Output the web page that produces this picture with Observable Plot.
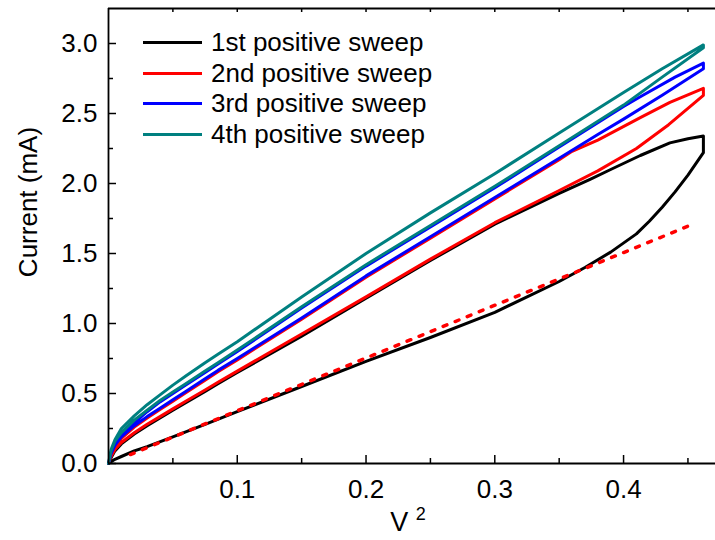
<!DOCTYPE html>
<html><head><meta charset="utf-8">
<script src="https://cdn.jsdelivr.net/npm/d3@7"></script>
<script src="https://cdn.jsdelivr.net/npm/@observablehq/plot@0.6"></script>
<style>
body{margin:0;background:#fff;}
#wrap{position:relative;width:715px;height:540px;font-family:"Liberation Sans",Arial,sans-serif;}
#legend{position:absolute;left:143px;top:27px;}
.row{display:flex;align-items:center;height:30.7px;font-size:26px;color:#000;white-space:nowrap;}
.sw{width:59px;height:3px;margin-right:9px;}
</style></head><body><div id="wrap"><div id="legend"></div></div>
<script>
const seriesNames = ["1st positive sweep","2nd positive sweep","3rd positive sweep","4th positive sweep"];
const seriesColors = ["#000000","#ff0000","#0000ff","#008080"];
const xMajor = [0.1,0.2,0.3,0.4];
const xMinor = [0.05,0.15,0.25,0.35,0.45];
const yMajor = [0,0.5,1.0,1.5,2.0,2.5,3.0];
const yMinor = [0.25,0.75,1.25,1.75,2.25,2.75];
const xDomain = [0,0.4714];
const yDomain = [0,3.25];

// 1st sweep (black): forward then return
const s1X = [0,0.005,0.01,0.02,0.03,0.05,0.075,0.1,0.15,0.2,0.25,0.3,0.35,0.37,0.39,0.41,0.42,0.43,0.44,0.45,0.462,
             0.462,0.45,0.436,0.413,0.39,0.374,0.35,0.3,0.25,0.2,0.15,0.1,0.085,0.075,0.06,0.05,0.04,0.03,0.02,0.01,0.005,0.002,0];
const s1Y = [0,0.03,0.05,0.09,0.12,0.19,0.28,0.37,0.55,0.73,0.9,1.08,1.3,1.4,1.51,1.64,1.73,1.83,1.94,2.06,2.22,
             2.34,2.32,2.29,2.2,2.1,2.03,1.93,1.71,1.45,1.18,0.91,0.65,0.57,0.515,0.435,0.38,0.325,0.27,0.21,0.14,0.09,0.04,0];
// 2nd sweep (red)
const s2X = [0,0.002,0.005,0.01,0.02,0.03,0.04,0.05,0.06,0.075,0.085,0.1,0.15,0.2,0.25,0.3,0.35,0.38,0.41,0.435,0.462,
             0.462,0.436,0.413,0.38,0.36,0.35,0.3,0.25,0.2,0.15,0.1,0.085,0.075,0.06,0.05,0.04,0.03,0.02,0.01,0.005,0.002,0];
const s2Y = [0,0.05,0.1,0.15,0.22,0.28,0.335,0.39,0.445,0.525,0.58,0.66,0.925,1.19,1.46,1.72,1.95,2.09,2.25,2.42,2.63,
             2.68,2.58,2.47,2.31,2.23,2.17,1.89,1.61,1.33,1.03,0.74,0.655,0.595,0.505,0.445,0.385,0.325,0.26,0.18,0.12,0.06,0];
// 3rd sweep (blue)
const s3X = [0,0.002,0.005,0.01,0.02,0.03,0.04,0.05,0.06,0.075,0.085,0.1,0.15,0.2,0.25,0.3,0.35,0.38,0.4,0.43,0.462,
             0.462,0.44,0.413,0.4,0.35,0.3,0.25,0.2,0.15,0.1,0.085,0.075,0.06,0.05,0.04,0.03,0.02,0.01,0.005,0.002,0];
const s3Y = [0,0.07,0.13,0.19,0.27,0.335,0.395,0.455,0.515,0.605,0.665,0.75,1.04,1.34,1.62,1.9,2.18,2.35,2.46,2.63,2.82,
             2.86,2.76,2.62,2.55,2.26,1.97,1.69,1.41,1.11,0.8,0.71,0.65,0.56,0.5,0.44,0.37,0.29,0.2,0.14,0.08,0];
// 4th sweep (teal)
const s4X = [0,0.002,0.005,0.01,0.02,0.03,0.04,0.05,0.06,0.075,0.085,0.1,0.15,0.2,0.25,0.3,0.35,0.4,0.43,0.462,
             0.462,0.43,0.4,0.35,0.3,0.25,0.2,0.15,0.1,0.085,0.075,0.06,0.05,0.04,0.03,0.02,0.01,0.005,0.002,0];
const s4Y = [0,0.09,0.16,0.22,0.31,0.38,0.45,0.51,0.57,0.66,0.72,0.81,1.12,1.42,1.70,1.98,2.27,2.56,2.76,2.97,
             2.99,2.82,2.65,2.36,2.07,1.79,1.5,1.19,0.87,0.78,0.72,0.625,0.56,0.49,0.42,0.34,0.25,0.17,0.1,0];
// linear fit (red dotted)
const fitX = [0.017,0.454];
const fitY = [0.064,1.71];

const allX = [s1X,s2X,s3X,s4X];
const allY = [s1Y,s2Y,s3Y,s4Y];
const toRows = (xs, ys) => xs.map((x,i)=>({x, y: ys[i]}));

const W = 715, H = 540, mL = 108, mR = 0, mT = 8, mB = 77;
const plotW = W - mL - mR, plotH = H - mT - mB;
const tickStyle = {stroke:"#000", strokeWidth:1.5};

const marks = [];
allX.forEach((xs,i)=>{
  marks.push(Plot.line(toRows(xs, allY[i]), {x:"x", y:"y", stroke: seriesColors[i], strokeWidth:3, strokeLinejoin:"round", strokeLinecap:"round"}));
});
marks.push(Plot.line(toRows(fitX, fitY), {x:"x", y:"y", stroke:"#ff0000", strokeWidth:3.5, strokeDasharray:"4,9"}));

// axis lines
marks.push(Plot.ruleX([xDomain[0]], {stroke:"#000", strokeWidth:1.8}));
marks.push(Plot.ruleY([yDomain[0]], {stroke:"#000", strokeWidth:1.8}));
marks.push(Plot.ruleY([yDomain[1]], {stroke:"#000", strokeWidth:1.8}));
// inward ticks
marks.push(Plot.tickX(xMajor, {x:d=>d, insetTop: plotH-8, ...tickStyle}));
marks.push(Plot.tickX(xMinor, {x:d=>d, insetTop: plotH-5, ...tickStyle}));
marks.push(Plot.tickX(xMajor.concat(xMinor), {x:d=>d, insetBottom: plotH-4, ...tickStyle}));
marks.push(Plot.tickY(yMajor, {y:d=>d, insetRight: plotW-8, ...tickStyle}));
marks.push(Plot.tickY(yMinor, {y:d=>d, insetRight: plotW-5, ...tickStyle}));
// tick labels
marks.push(Plot.axisX({ticks: xMajor, tickSize: 0, tickPadding: 16, tickFormat: d=>d.toFixed(1), label: null, fontSize: 26}));
marks.push(Plot.axisY({ticks: yMajor, tickSize: 0, tickPadding: 11, tickFormat: d=>d.toFixed(1), label: null, fontSize: 26}));
// axis titles
marks.push(Plot.text(["Current (mA)"], {text:d=>d, frameAnchor:"left", rotate:-90, dx:-80, dy:-34, fontSize:26, textAnchor:"middle", lineAnchor:"middle"}));
marks.push(Plot.text(["V 2"], {text:d=>d, frameAnchor:"bottom", dx:-4, dy:59, fontSize:27, textAnchor:"middle", lineAnchor:"middle"}));

const chart = Plot.plot({
  width: W, height: H,
  marginLeft: mL, marginRight: mR, marginTop: mT, marginBottom: mB,
  x: {domain: xDomain},
  y: {domain: yDomain},
  style: {fontFamily: '"Liberation Sans", Arial, sans-serif', fontSize: "26px", color:"#000", background:"#fff", overflow:"visible"},
  marks
});
// superscript for the x title
chart.querySelectorAll("text").forEach(t=>{
  if (t.textContent === "V 2") {
    t.textContent = "V ";
    const sup = document.createElementNS("http://www.w3.org/2000/svg","tspan");
    sup.setAttribute("dy","-11"); sup.setAttribute("font-size","18");
    sup.textContent = "2";
    t.appendChild(sup);
  }
});
const wrap = document.getElementById("wrap");
wrap.insertBefore(chart, wrap.firstChild);

const legend = document.getElementById("legend");
seriesNames.forEach((n,i)=>{
  const r = document.createElement("div"); r.className="row";
  const s = document.createElement("span"); s.className="sw"; s.style.background = seriesColors[i];
  const t = document.createElement("span"); t.textContent = n;
  r.appendChild(s); r.appendChild(t); legend.appendChild(r);
});
</script></body></html>
